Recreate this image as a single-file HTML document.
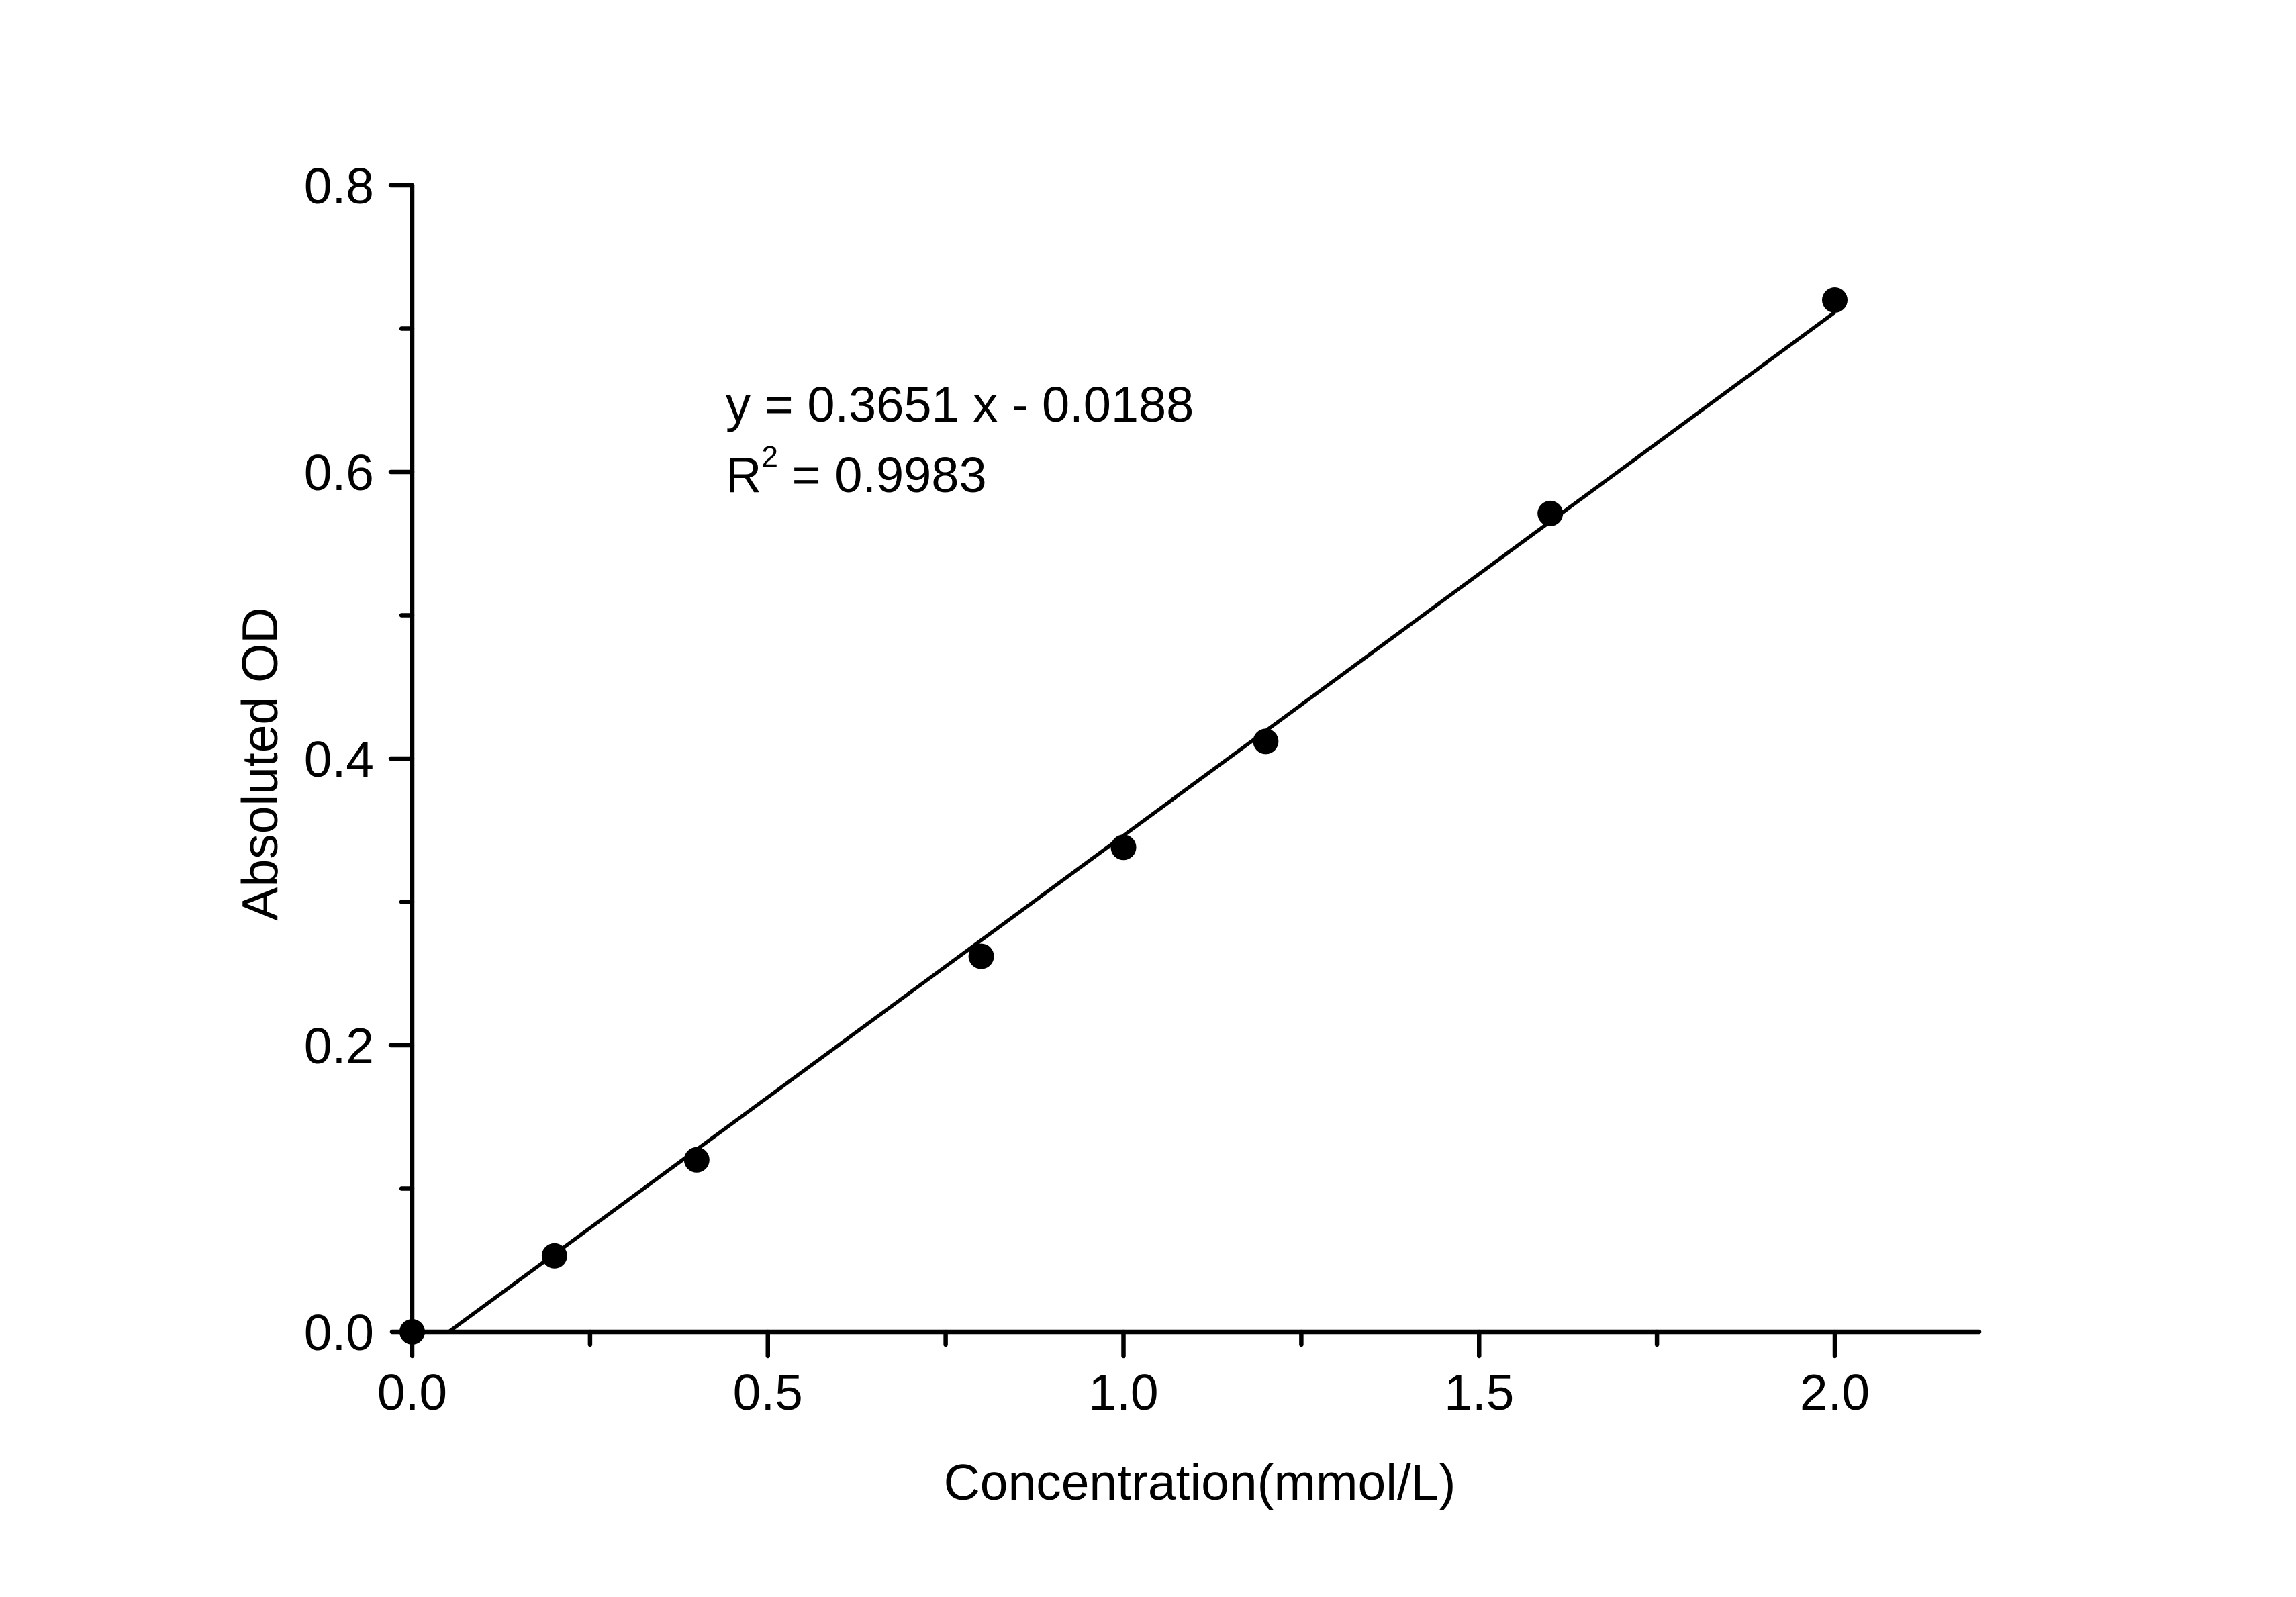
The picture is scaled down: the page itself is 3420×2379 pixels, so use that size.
<!DOCTYPE html>
<html><head><meta charset="utf-8"><style>
html,body{margin:0;padding:0;background:#fff;}
svg{display:block;}
text{font-family:"Liberation Sans",Arial,sans-serif;fill:#000;}
</style></head><body>
<svg width="3420" height="2379" viewBox="0 0 3420 2379" xmlns="http://www.w3.org/2000/svg">
<rect width="3420" height="2379" fill="#fff"/>
<g stroke="#000" stroke-width="6.5" stroke-linecap="round" fill="none">
<line x1="614" y1="276" x2="614" y2="1986"/>
<line x1="584" y1="1984" x2="2948" y2="1984"/>
<line x1="582" y1="276" x2="614" y2="276"/>
<line x1="582" y1="703" x2="614" y2="703"/>
<line x1="582" y1="1130" x2="614" y2="1130"/>
<line x1="582" y1="1557" x2="614" y2="1557"/>
<line x1="598" y1="489.5" x2="614" y2="489.5"/>
<line x1="598" y1="916.5" x2="614" y2="916.5"/>
<line x1="598" y1="1343.5" x2="614" y2="1343.5"/>
<line x1="598" y1="1770.5" x2="614" y2="1770.5"/>
<line x1="614" y1="1984" x2="614" y2="2020"/>
<line x1="1143.75" y1="1984" x2="1143.75" y2="2020"/>
<line x1="1673.5" y1="1984" x2="1673.5" y2="2020"/>
<line x1="2203.25" y1="1984" x2="2203.25" y2="2020"/>
<line x1="2733" y1="1984" x2="2733" y2="2020"/>
<line x1="878.9" y1="1984" x2="878.9" y2="2003"/>
<line x1="1408.6" y1="1984" x2="1408.6" y2="2003"/>
<line x1="1938.4" y1="1984" x2="1938.4" y2="2003"/>
<line x1="2468.1" y1="1984" x2="2468.1" y2="2003"/>
</g>
<line x1="668.6" y1="1984" x2="2733" y2="465.2" stroke="#000" stroke-width="5.5"/>
<g fill="#000">
<circle cx="614" cy="1984" r="19"/>
<circle cx="825.9" cy="1870.8" r="19"/>
<circle cx="1037.8" cy="1727.8" r="19"/>
<circle cx="1461.6" cy="1424.6" r="19"/>
<circle cx="1673.5" cy="1262.3" r="19"/>
<circle cx="1885.4" cy="1104.4" r="19"/>
<circle cx="2309.2" cy="764.9" r="19"/>
<circle cx="2733" cy="447" r="19"/>
</g>
<g font-size="75" text-anchor="end">
<text x="557" y="303">0.8</text>
<text x="557" y="730">0.6</text>
<text x="557" y="1157">0.4</text>
<text x="557" y="1584">0.2</text>
<text x="557" y="2011">0.0</text>
</g>
<g font-size="75" text-anchor="middle">
<text x="614" y="2100">0.0</text>
<text x="1143.75" y="2100">0.5</text>
<text x="1673.5" y="2100">1.0</text>
<text x="2203.25" y="2100">1.5</text>
<text x="2733" y="2100">2.0</text>
<text x="1787" y="2234">Concentration(mmol/L)</text>
<text transform="translate(413,1138) rotate(-90)">Absoluted OD</text>
</g>
<g font-size="74">
<text x="1081" y="628">y = 0.3651 x - 0.0188</text>
<text x="1081" y="733">R<tspan font-size="44" dy="-38">2</tspan><tspan dy="38"> = 0.9983</tspan></text>
</g>
</svg>
</body></html>
